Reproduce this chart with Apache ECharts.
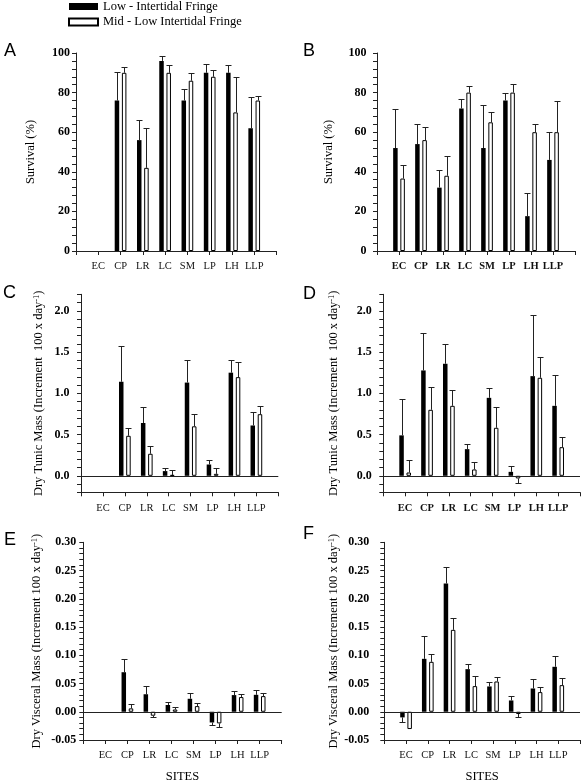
<!DOCTYPE html>
<html><head><meta charset="utf-8">
<script src="https://cdn.jsdelivr.net/npm/echarts@6/dist/echarts.min.js"></script>
<style>html,body{margin:0;padding:0;background:#fff}#c{width:583px;height:784px}</style>
</head><body><div id="c"></div>
<script>
const SITES = ['EC', 'CP', 'LR', 'LC', 'SM', 'LP', 'LH', 'LLP'];
const LOW_NAME = 'Low - Intertidal Fringe';
const MID_NAME = 'Mid - Low Intertidal Fringe';

// Panel A - Survival (%)
const survA_low    = [null, 76, 56, 96, 76, 90, 90, 62];
const survA_lowErr = [null, 14.4, 10, 2.3, 6, 4.3, 4, 16];
const survA_mid    = [null, 90, 42, 90, 86, 88, 70, 76];
const survA_midErr = [null, 3, 20, 4, 4, 3.6, 18, 2.5];
// Panel B - Survival (%)
const survB_low    = [52, 54, 32, 72, 52, 76, 17.6, 46];
const survB_lowErr = [19.5, 10, 9, 5, 21.5, 4, 11.5, 14];
const survB_mid    = [36.6, 56, 38, 80, 65, 80, 60, 60];
const survB_midErr = [6.8, 6.7, 10, 3.2, 5, 4.5, 4, 16];
// Panel C - Dry tunic mass
const tunicC_low    = [null, 1.14, 0.64, 0.057, 1.13, 0.137, 1.25, 0.61];
const tunicC_lowErr = [null, 0.43, 0.19, 0.04, 0.27, 0.057, 0.155, 0.16];
const tunicC_mid    = [null, 0.485, 0.267, 0.01, 0.6, 0.024, 1.196, 0.747];
const tunicC_midErr = [null, 0.093, 0.097, 0.063, 0.15, 0.073, 0.178, 0.097];
// Panel D - Dry tunic mass
const tunicD_low    = [0.49, 1.277, 1.358, 0.323, 0.945, 0.048, 1.208, 0.848];
const tunicD_lowErr = [0.444, 0.452, 0.242, 0.065, 0.122, 0.069, 0.744, 0.368];
const tunicD_mid    = [0.04, 0.8, 0.848, 0.077, 0.582, -0.032, 1.188, 0.347];
const tunicD_midErr = [0.154, 0.275, 0.194, 0.093, 0.254, 0.053, 0.25, 0.126];
// Panel E - Dry visceral mass
const viscE_low    = [null, 0.07, 0.031, 0.012, 0.023, -0.019, 0.0295, 0.030];
const viscE_lowErr = [null, 0.024, 0.014, 0.005, 0.010, 0.0045, 0.0075, 0.0077];
const viscE_mid    = [null, 0.006, -0.007, 0.004, 0.01, -0.0206, 0.026, 0.0277];
const viscE_midErr = [null, 0.007, 0.003, 0.005, 0.005, 0.007, 0.0058, 0.0047];
// Panel F - Dry visceral mass
const viscF_low    = [-0.010, 0.0937, 0.227, 0.0754, 0.0448, 0.02, 0.0412, 0.0796];
const viscF_lowErr = [0.009, 0.040, 0.030, 0.0083, 0.0076, 0.0077, 0.016, 0.0194];
const viscF_mid    = [-0.0306, 0.0884, 0.145, 0.0454, 0.0536, -0.004, 0.0348, 0.0471];
const viscF_midErr = [0, 0.0141, 0.0218, 0.0171, 0.0071, 0.0048, 0.0088, 0.0124];

// Tick labels
const SURV_LABELS  = [0, 20, 40, 60, 80, 100];
const TUNIC_LABELS = [0.0, 0.5, 1.0, 1.5, 2.0];
const VISC_LABELS  = [-0.05, 0.00, 0.05, 0.10, 0.15, 0.20, 0.25, 0.30];

const SERIF = 'Liberation Serif';
const BAR_W = 4.5, GAP_RATIO = 0.6;
const OFF = BAR_W * (1 + GAP_RATIO) / 2;
const CATS = [''].concat(SITES, ['']);
const pad = a => [null].concat(a, [null]);

const SURV_NAME = 'Survival (%)';
const TUNIC_NAME = 'Dry Tunic Mass (Increment  100 x day{sup|-1})';
const VISC_NAME = 'Dry Visceral Mass (Increment 100 x day{sup|-1})';

const panels = [
  {letter:'A', L:[survA_low, survA_lowErr, survA_mid, survA_midErr], grid:{left:76, top:53, width:200.5, height:198},
   min:0, max:100, step:4, labels:SURV_LABELS, dec:0, name:SURV_NAME, nameGap:39, lm:6, zero:false, bold:false, sites:false, pos:[4,42]},
  {letter:'B', L:[survB_low, survB_lowErr, survB_mid, survB_midErr], grid:{left:377, top:53, width:198, height:198},
   min:0, max:100, step:4, labels:SURV_LABELS, dec:0, name:SURV_NAME, nameGap:42, lm:10.5, zero:false, bold:true, sites:false, pos:[303,42]},
  {letter:'C', L:[tunicC_low, tunicC_lowErr, tunicC_mid, tunicC_midErr], grid:{left:81, top:294.3, width:197.3, height:198},
   min:-0.2, max:2.2, step:0.1, labels:TUNIC_LABELS, dec:1, name:TUNIC_NAME, nameGap:36, lm:11.5, zero:true, bold:false, sites:false, pos:[3,284]},
  {letter:'D', L:[tunicD_low, tunicD_lowErr, tunicD_mid, tunicD_midErr], grid:{left:383.3, top:294.3, width:196.7, height:198},
   min:-0.2, max:2.2, step:0.1, labels:TUNIC_LABELS, dec:1, name:TUNIC_NAME, nameGap:43, lm:11.5, zero:true, bold:true, sites:false, pos:[303,285]},
  {letter:'E', L:[viscE_low, viscE_lowErr, viscE_mid, viscE_midErr], grid:{left:83.3, top:542.3, width:198.4, height:198.7},
   min:-0.05, max:0.30, step:0.01, labels:VISC_LABELS, dec:2, name:VISC_NAME, nameGap:40, lm:7, zero:true, bold:false, sites:true, pos:[4,531]},
  {letter:'F', L:[viscF_low, viscF_lowErr, viscF_mid, viscF_midErr], grid:{left:384.3, top:542.3, width:197.4, height:198.7},
   min:-0.05, max:0.30, step:0.01, labels:VISC_LABELS, dec:2, name:VISC_NAME, nameGap:44, lm:15, zero:true, bold:false, sites:true, pos:[303,525]}
];

function errData(vals, errs, side) {
  const out = [];
  vals.forEach((v, i) => {
    if (v != null && errs[i]) out.push([i + 1, v, v + (v < 0 ? -1 : 1) * errs[i], side]);
  });
  return out;
}

const grids = [], xAxes = [], yAxes = [], series = [], titles = [];
panels.forEach((p, gi) => {
  grids.push(Object.assign({containLabel:false}, p.grid));
  titles.push({text:p.letter, left:p.pos[0], top:p.pos[1], padding:0,
    textStyle:{fontFamily:'Liberation Sans', fontSize:18, fontWeight:'normal', color:'#000'}});
  xAxes.push({
    type:'category', gridIndex:gi, data:CATS, boundaryGap:false,
    axisLine:{onZero:false, lineStyle:{color:'#222', width:1}},
    axisTick:{show:true, length:4, interval:0, lineStyle:{color:'#222'}},
    axisLabel:{interval:0, margin:10, fontFamily:SERIF, fontSize:10.5, color:'#111', fontWeight:p.bold ? 'bold' : 'normal'},
    splitLine:{show:false},
    name:p.sites ? 'SITES' : '', nameLocation:'middle', nameGap:30,
    nameTextStyle:{fontFamily:SERIF, fontSize:12.5, color:'#000'}
  });
  yAxes.push({
    type:'value', gridIndex:gi, min:p.min, max:p.max, interval:p.step,
    axisLine:{show:true, lineStyle:{color:'#222', width:1}},
    axisTick:{show:true, length:4, lineStyle:{color:'#222'}},
    splitLine:{show:false},
    axisLabel:{margin:p.lm, fontFamily:SERIF, fontSize:12, fontWeight:'bold', color:'#000',
      showMinLabel:true, showMaxLabel:true,
      formatter:v => p.labels.some(l => Math.abs(l - v) < p.step / 10) ? Number(v).toFixed(p.dec) : ''},
    name:p.name, nameLocation:'middle', nameRotate:90, nameGap:p.nameGap,
    nameTextStyle:{fontFamily:SERIF, fontSize:12.5, color:'#000',
      rich:{sup:{fontFamily:SERIF, fontSize:8.5, color:'#000', verticalAlign:'top', lineHeight:8}}}
  });
  const [lo, loE, mi, miE] = p.L;
  const low = {
    type:'bar', name:LOW_NAME, xAxisIndex:gi, yAxisIndex:gi, data:pad(lo),
    barWidth:BAR_W, barGap:(GAP_RATIO * 100) + '%', silent:true,
    itemStyle:{color:'#000'}
  };
  if (p.zero) {
    low.markLine = {silent:true, symbol:'none', label:{show:false}, animation:false,
      lineStyle:{color:'#222', type:'solid', width:1}, data:[{yAxis:0}]};
  }
  series.push(low);
  series.push({
    type:'bar', name:MID_NAME, xAxisIndex:gi, yAxisIndex:gi, data:pad(mi),
    barWidth:BAR_W, barGap:(GAP_RATIO * 100) + '%', silent:true,
    itemStyle:{color:'#fff', borderColor:'#000', borderWidth:1}
  });
  series.push({
    type:'custom', xAxisIndex:gi, yAxisIndex:gi, silent:true, z:5,
    data:errData(lo, loE, -1).concat(errData(mi, miE, 1)),
    encode:{x:0, y:[1, 2]},
    renderItem:function (params, api) {
      const x = api.value(0), m = api.value(1), c = api.value(2), side = api.value(3);
      const p1 = api.coord([x, m]), p2 = api.coord([x, c]);
      const cx = Math.round(p1[0] + side * OFF) + 0.5;
      const cy = Math.round(p2[1]) + 0.5;
      return {type:'group', children:[
        {type:'line', shape:{x1:cx, y1:p1[1], x2:cx, y2:cy}, style:{stroke:'#222', lineWidth:1}},
        {type:'line', shape:{x1:cx - 3, y1:cy, x2:cx + 3, y2:cy}, style:{stroke:'#222', lineWidth:1}}
      ]};
    }
  });
});

const chart = echarts.init(document.getElementById('c'), null, {renderer:'canvas'});
chart.setOption({
  animation:false,
  backgroundColor:'#fff',
  title:titles,
  legend:{data:[LOW_NAME, MID_NAME], orient:'vertical', left:68, top:0, padding:0, itemWidth:29, itemHeight:7,
    itemGap:2.5, selectedMode:false, icon:'rect',
    textStyle:{fontFamily:SERIF, fontSize:12.5, color:'#000', lineHeight:13}},
  grid:grids, xAxis:xAxes, yAxis:yAxes, series:series
});
</script></body></html>
